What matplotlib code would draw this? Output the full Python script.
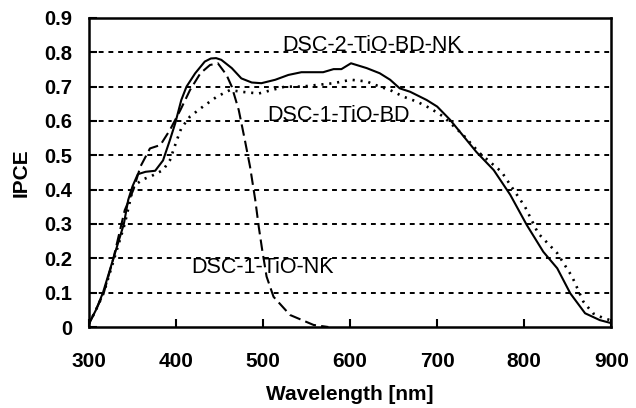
import numpy as np
import matplotlib
matplotlib.use('Agg')
import matplotlib.pyplot as plt

# wavelength [nm] / IPCE
wl_bdnk = [300, 308, 316, 328, 340, 345, 350, 356, 365, 376, 385, 393, 399, 406, 412,
           422, 433, 440, 446, 452, 464, 475, 487, 498, 514, 529, 544, 569, 581, 590,
           601, 619, 634, 646, 657, 669, 688, 700, 715, 726, 745, 765, 784, 803, 822,
           838, 853, 870, 887, 899]
ipce_bdnk = [0.01, 0.05, 0.10, 0.20, 0.30, 0.37, 0.41, 0.445, 0.452, 0.455, 0.485, 0.545,
             0.593, 0.661, 0.70, 0.739, 0.773, 0.782, 0.783, 0.778, 0.754, 0.724, 0.712,
             0.71, 0.72, 0.734, 0.742, 0.742, 0.751, 0.751, 0.768, 0.754, 0.739, 0.72,
             0.695, 0.685, 0.661, 0.642, 0.603, 0.569, 0.51, 0.457, 0.385, 0.297, 0.219,
             0.171, 0.098, 0.04, 0.02, 0.012]

wl_bd = [300, 308, 317, 329, 341, 351, 362, 372, 385, 393, 401, 406, 416, 431, 447, 462,
         475, 495, 525, 544, 581, 601, 619, 634, 646, 661, 677, 692, 707, 730, 749, 774,
         784, 801, 816, 838, 855, 868, 879, 891, 899]
ipce_bd = [0.01, 0.05, 0.10, 0.20, 0.30, 0.41, 0.43, 0.44, 0.457, 0.486, 0.545, 0.579,
           0.613, 0.642, 0.671, 0.69, 0.685, 0.68, 0.70, 0.70, 0.71, 0.72, 0.715, 0.70,
           0.69, 0.671, 0.656, 0.637, 0.613, 0.559, 0.506, 0.452, 0.414, 0.35, 0.273,
           0.215, 0.147, 0.074, 0.04, 0.026, 0.02]

wl_nk = [300, 308, 317, 328, 341, 351, 359, 370, 382, 393, 405, 416, 428, 439, 448, 458,
         464, 472, 479, 485, 491, 495, 499, 504, 512, 531, 558, 575]
ipce_nk = [0.01, 0.05, 0.10, 0.20, 0.34, 0.40, 0.467, 0.52, 0.53, 0.574, 0.632, 0.69,
           0.739, 0.763, 0.768, 0.734, 0.70, 0.632, 0.545, 0.467, 0.37, 0.292, 0.224,
           0.147, 0.088, 0.035, 0.006, 0.0]

xticks = [300, 400, 500, 600, 700, 800, 900]
yticks = [0, 0.1, 0.2, 0.3, 0.4, 0.5, 0.6, 0.7, 0.8, 0.9]
ylabels = ['0', '0.1', '0.2', '0.3', '0.4', '0.5', '0.6', '0.7', '0.8', '0.9']

plt.rcParams['font.family'] = ['Liberation Sans', 'DejaVu Sans']

fig = plt.figure(figsize=(6.36, 4.08), dpi=100)
ax = fig.add_axes([0.140, 0.1985, 0.821, 0.7575])

# dotted grid lines, no line on the top spine
for y in yticks[1:-1]:
    ax.axhline(y, color='black', lw=1.4, dashes=(2.5, 2.5), zorder=1)

ax.plot(wl_bdnk, ipce_bdnk, color='black', lw=1.5, zorder=3)
ax.plot(wl_bd, ipce_bd, color='black', lw=1.9, dashes=(0.8, 2.2), zorder=3)
ax.plot(wl_nk, ipce_nk, color='black', lw=1.5, dashes=(5.5, 2.5), zorder=3)

ax.text(522, 0.821, 'DSC-2-TiO-BD-NK', fontsize=15.5, ha='left', va='center')
ax.text(505, 0.617, 'DSC-1-TiO-BD', fontsize=15.5, ha='left', va='center')
ax.text(418, 0.172, 'DSC-1-TiO-NK', fontsize=15.5, ha='left', va='center')

ax.set_xlim(300, 900)
ax.set_ylim(0, 0.9)
ax.set_xticks(xticks)
ax.set_yticks(yticks)
ax.set_yticklabels(ylabels)
for lab in ax.get_xticklabels() + ax.get_yticklabels():
    lab.set_fontweight('bold')
ax.tick_params(axis='x', direction='in', length=6, width=1.5, labelsize=15, pad=18)
ax.tick_params(axis='y', direction='in', length=6, width=1.5, labelsize=14.5, pad=12)
for s in ax.spines.values():
    s.set_linewidth(1.8)

ax.set_xlabel('Wavelength [nm]', fontsize=15, fontweight='bold', labelpad=10)
ax.set_ylabel('IPCE', fontsize=15, fontweight='bold', labelpad=10)

fig.savefig('out.png', dpi=100)
